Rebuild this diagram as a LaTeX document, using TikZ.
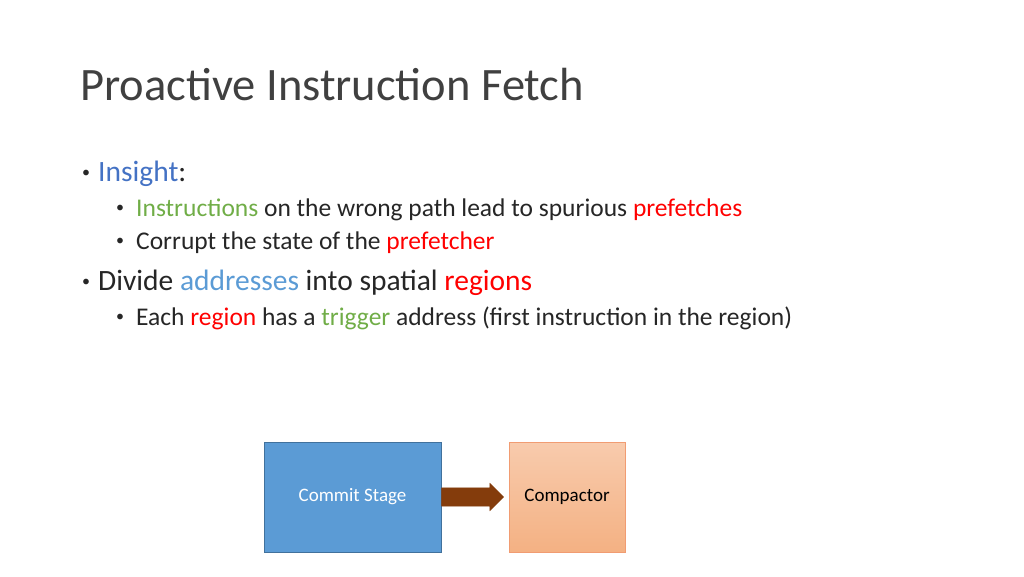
\documentclass[tikz,border=0pt]{standalone}
\usepackage{fontspec}
\setmainfont{Carlito}
\usetikzlibrary{arrows.meta,shapes.arrows}
\definecolor{ttl}{HTML}{404040}
\definecolor{txt}{HTML}{262626}
\definecolor{ib}{HTML}{4472C4}
\definecolor{gr}{HTML}{70AD47}
\definecolor{rd}{HTML}{FF0000}
\definecolor{lb}{HTML}{5B9BD5}
\definecolor{bx}{HTML}{5B9BD5}
\definecolor{bxd}{HTML}{41719C}
\definecolor{ct}{HTML}{F8CBAD}
\definecolor{cb}{HTML}{F4B183}
\definecolor{cbd}{HTML}{F19C72}
\definecolor{ar}{HTML}{843C0C}
\tikzset{
 t/.style={anchor=base west,inner sep=0pt,text=txt},
 l1/.style={t,font=\fontsize{29.5}{34}\selectfont},
 l2/.style={t,font=\fontsize{25.5}{30}\selectfont},
 dot/.style={t,font=\fontsize{16}{18}\selectfont},
}
\begin{document}
\begin{tikzpicture}[x=1pt,y=-1pt]
\useasboundingbox (0,0) rectangle (1024,576);
\node[t,text=ttl,font=\fontsize{46.5}{52}\selectfont] (title) at (80,100) {Proactive Instruction Fetch};
\node[dot] (b1) at (82,177) {\textbullet};
\node[l1] (i1) at (98,181) {\textcolor{ib}{Insight}:};
\node[dot] (b2) at (116,212) {\textbullet};
\node[l2] (i2) at (136,216) {\textcolor{gr}{Instructions} on the wrong path lead to spurious \textcolor{rd}{prefetches}};
\node[dot] (b3) at (116,245) {\textbullet};
\node[l2] (i3) at (136,249) {Corrupt the state of the \textcolor{rd}{prefetcher}};
\node[dot] (b4) at (82,286) {\textbullet};
\node[l1] (i4) at (98,290) {Divide \textcolor{lb}{addresses} into spatial \textcolor{rd}{regions}};
\node[dot] (b5) at (116,321) {\textbullet};
\node[l2] (i5) at (136,325) {Each \textcolor{rd}{region} has a \textcolor{gr}{trigger} address (first instruction in the region)};
\node[draw=bxd,fill=bx,line width=0.8pt,minimum width=177pt,minimum height=110pt,inner sep=0pt,text=white,font=\fontsize{19}{22}\selectfont] (cs) at (352.5,497) {Commit Stage};
\node[draw=cbd,top color=ct,bottom color=cb,line width=0.8pt,minimum width=116pt,minimum height=110pt,inner sep=0pt,text=black,font=\fontsize{19}{22}\selectfont] (cp) at (567,497) {Compactor};
\node[single arrow,fill=ar,draw=ar,minimum height=62pt,text height=0pt,text depth=0pt,inner xsep=0pt,inner ysep=9pt,single arrow head extend=4.5pt,anchor=west] (arw) at (cs.east) {};
\end{tikzpicture}
\end{document}
